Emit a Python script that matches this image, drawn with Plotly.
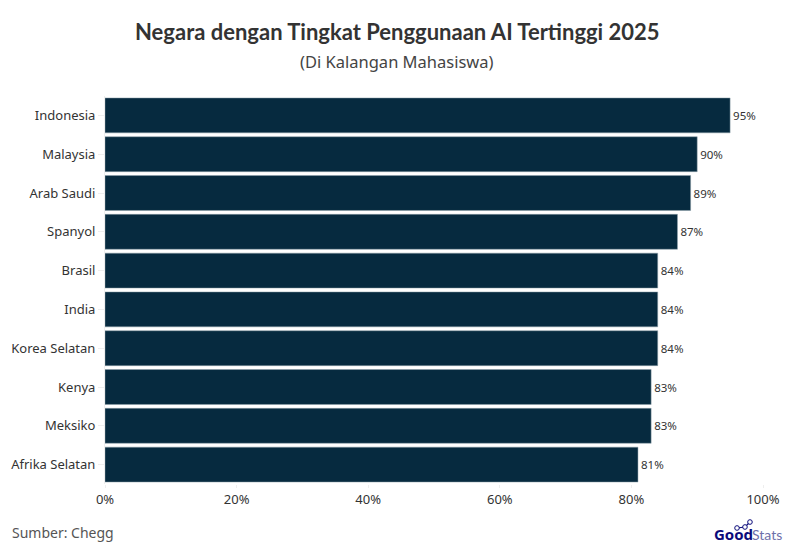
import plotly.graph_objects as go

countries = ["Indonesia", "Malaysia", "Arab Saudi", "Spanyol", "Brasil", "India",
             "Korea Selatan", "Kenya", "Meksiko", "Afrika Selatan"]
values = [95, 90, 89, 87, 84, 84, 84, 83, 83, 81]
tick_vals = [0, 20, 40, 60, 80, 100]
tick_text = ["0%", "20%", "40%", "60%", "80%", "100%"]

font = "Noto Sans"
title_font = "Lato"

fig = go.Figure(go.Bar(
    x=values,
    y=countries,
    orientation="h",
    marker=dict(color="#062a3f", line=dict(width=0.5, color="#8fa0ab")),
    width=0.9,
    text=[str(v) + "%" for v in values],
    textposition="outside",
    cliponaxis=False,
    textfont=dict(size=11.5, color="#333333", family=font),
))

# page has an 8px body margin, so the figure is a bit smaller than the window
fig.update_layout(
    width=786, height=546,
    margin=dict(l=97, r=31, t=88, b=70, autoexpand=False),
    paper_bgcolor="white", plot_bgcolor="white",
    font=dict(family=font, color="#333333"),
    showlegend=False,
)

fig.add_annotation(text="<b>Negara dengan Tingkat Penggunaan AI Tertinggi 2025</b>",
                   xref="paper", yref="paper", x=0.4438, y=1.165, yanchor="middle", showarrow=False,
                   font=dict(size=22, color="#333333", family=title_font))
fig.add_annotation(text="(Di Kalangan Mahasiswa)",
                   xref="paper", yref="paper", x=0.4438, y=1.088, yanchor="middle", showarrow=False,
                   font=dict(size=16.5, color="#444444", family=font))
fig.add_annotation(text="Sumber: Chegg",
                   xref="paper", yref="paper", x=-0.1444, y=-0.126, xanchor="left", yanchor="middle",
                   showarrow=False, font=dict(size=14, color="#555555", family=font))

# logo, text plus the little line above it
fig.add_annotation(text="<b>Good</b>", xref="paper", yref="paper", x=0.955, y=-0.130,
                   xanchor="center", yanchor="middle", showarrow=False,
                   font=dict(size=15, color="#0b0b7a", family=font))
fig.add_annotation(text="Stats", xref="paper", yref="paper", x=1.0068, y=-0.130,
                   xanchor="center", yanchor="middle", showarrow=False,
                   font=dict(size=14, color="#6d70aa", family=title_font))
fig.add_shape(type="path", xref="paper", yref="paper",
              path="M 0.9605 -0.1134 L 0.9726 -0.1108 L 0.9802 -0.098",
              line=dict(color="#0b0b7a", width=1.2))
for nx, ny in [(0.9605, -0.1134), (0.9726, -0.1108), (0.9802, -0.098)]:
    fig.add_shape(type="circle", xref="paper", yref="paper",
                  x0=nx - 0.0035, x1=nx + 0.0035, y0=ny - 0.006, y1=ny + 0.006,
                  line=dict(color="#0b0b7a", width=1), fillcolor="white")

fig.update_xaxes(range=[0, 100], tickvals=tick_vals, ticktext=tick_text,
                 showgrid=False, zeroline=False, showline=False,
                 ticks="outside", ticklen=3, tickcolor="#eeeeee", tickwidth=1,
                 tickfont=dict(size=13, color="#333333"))
fig.update_yaxes(categoryorder="array", categoryarray=countries[::-1],
                 showgrid=False, zeroline=False, showline=True, linecolor="#eeeeee",
                 ticks="outside", ticklen=6, tickcolor="#eeeeee", tickwidth=1,
                 tickfont=dict(size=13, color="#333333"))

fig.write_html("out.html")
